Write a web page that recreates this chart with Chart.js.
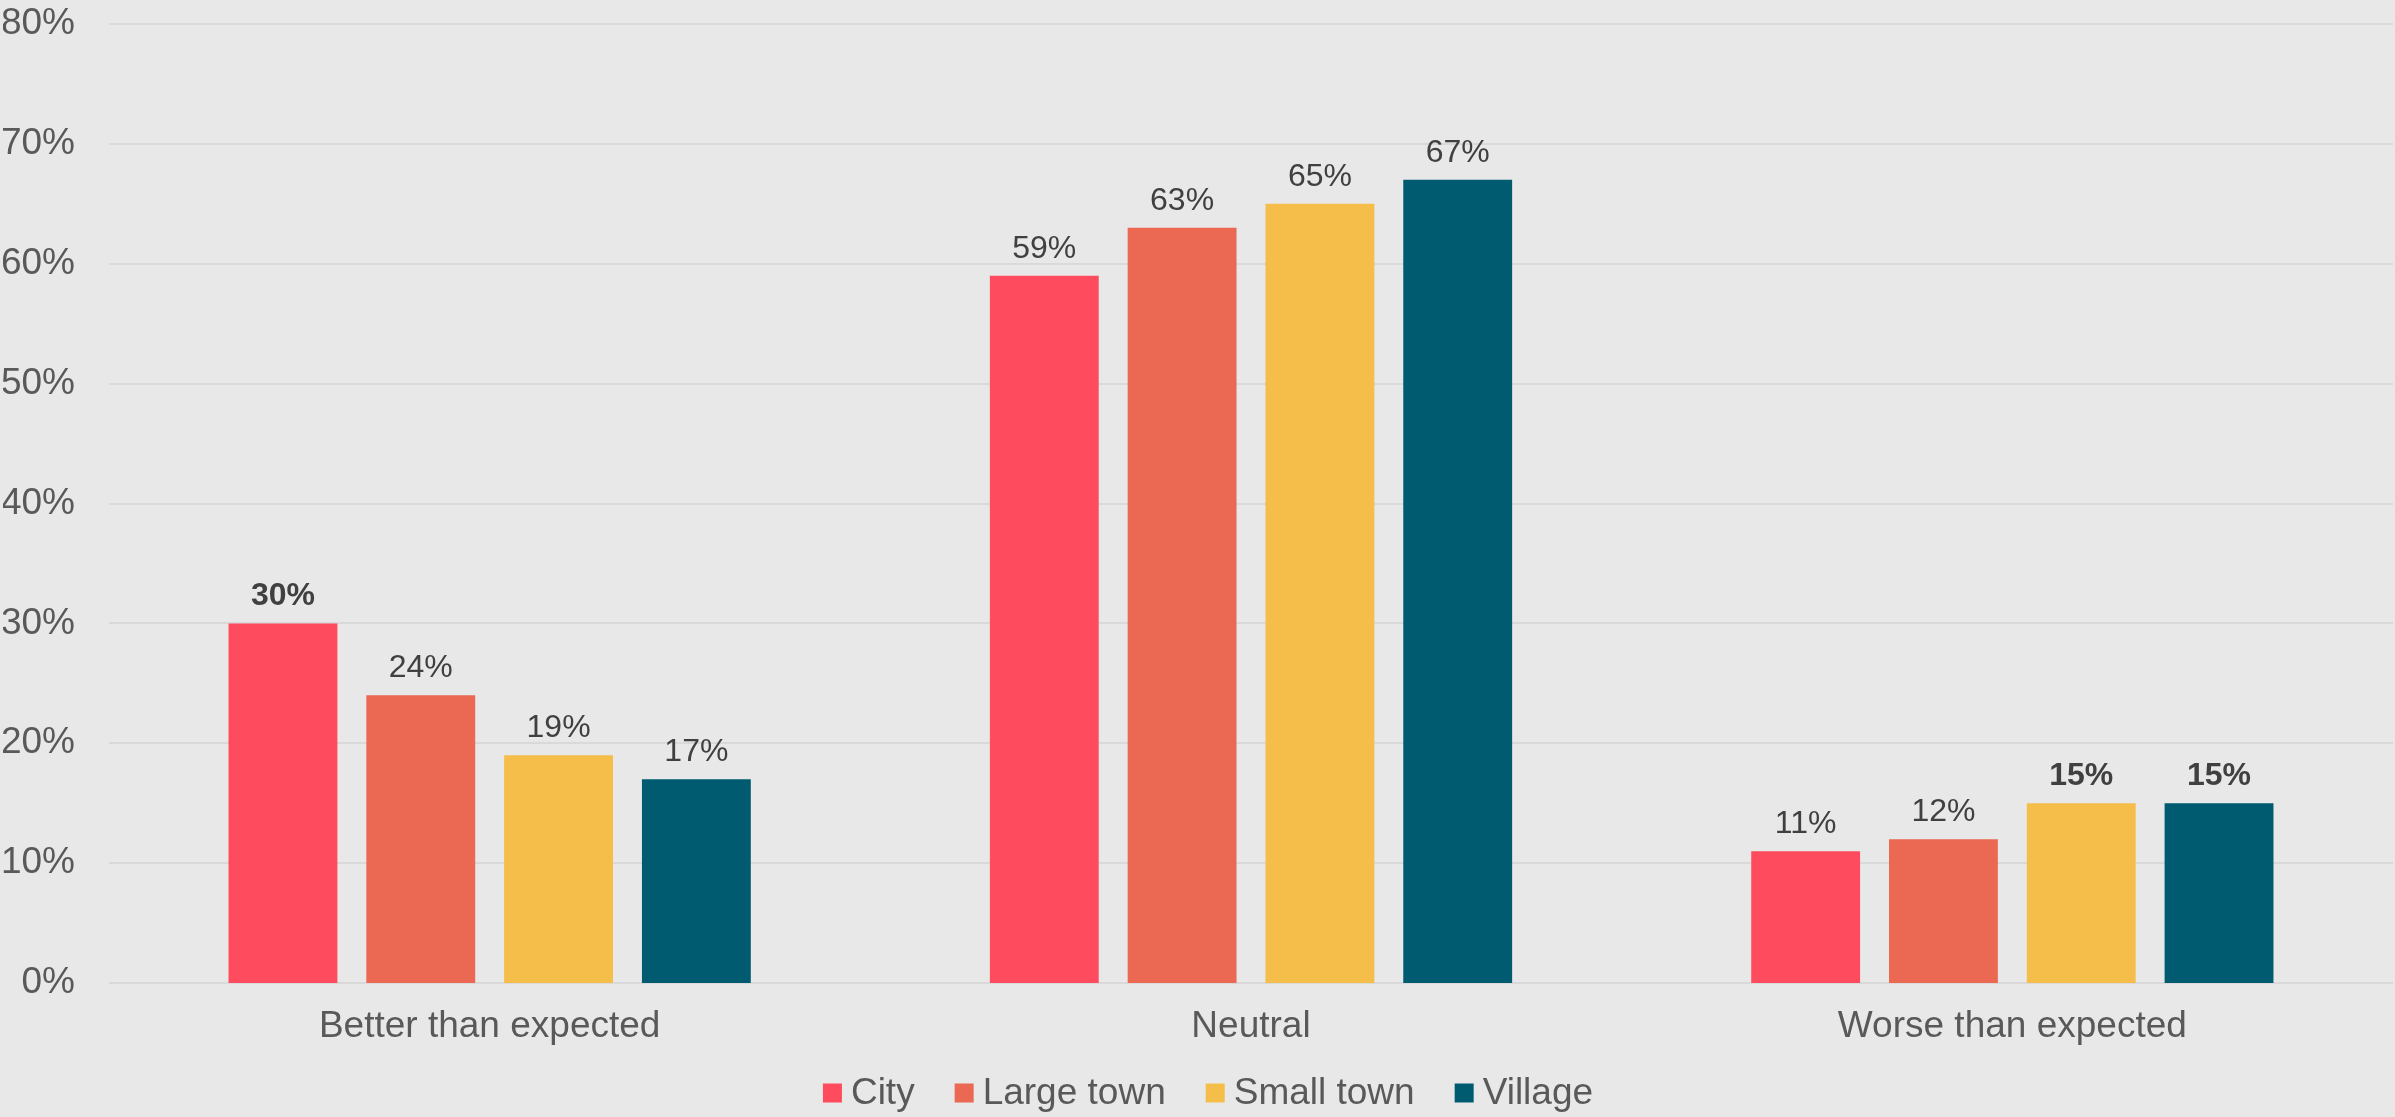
<!DOCTYPE html>
<html>
<head>
<meta charset="utf-8">
<script src="https://cdn.jsdelivr.net/npm/chart.js@4.4.0/dist/chart.umd.min.js"></script>
<style>
  html, body { margin: 0; padding: 0; background: #e8e8e8; }
  #wrap { width: 2395px; height: 1117px; position: relative; }
</style>
</head>
<body>
<div id="wrap"><canvas id="c" width="2395" height="1117"></canvas></div>
<script>
const categories = ['Better than expected', 'Neutral', 'Worse than expected'];
const seriesNames = ['City', 'Large town', 'Small town', 'Village'];
const cityValues = [30, 59, 11];
const largeTownValues = [24, 63, 12];
const smallTownValues = [19, 65, 15];
const villageValues = [17, 67, 15];
const cityBold = [true, false, false];
const largeTownBold = [false, false, false];
const smallTownBold = [false, false, true];
const villageBold = [false, false, true];
const yTicks = [0, 10, 20, 30, 40, 50, 60, 70, 80];
const colors = ['#FF4B5E', '#EB6853', '#F5BE4B', '#005A70'];

const FONT = '"Liberation Sans", Arial, sans-serif';

const allValues = [cityValues, largeTownValues, smallTownValues, villageValues];
const allBold = [cityBold, largeTownBold, smallTownBold, villageBold];

const datasets = seriesNames.map((name, i) => ({
  label: name,
  data: allValues[i],
  bold: allBold[i],
  backgroundColor: colors[i],
  borderWidth: 0,
  categoryPercentage: 0.724,
  barPercentage: 0.79
}));

const bgPlugin = {
  id: 'bg',
  beforeDraw(chart) {
    const ctx = chart.ctx;
    ctx.save();
    ctx.fillStyle = '#e8e8e8';
    ctx.fillRect(0, 0, chart.width, chart.height);
    ctx.restore();
  }
};

const gridPlugin = {
  id: 'hgrid',
  beforeDatasetsDraw(chart) {
    const ctx = chart.ctx;
    const xs = chart.scales.x, ys = chart.scales.y;
    ctx.save();
    ctx.strokeStyle = '#d9d9d9';
    ctx.lineWidth = 2;
    yTicks.forEach(v => {
      const y = Math.round(ys.getPixelForValue(v));
      ctx.beginPath();
      ctx.moveTo(xs.left, y);
      ctx.lineTo(xs.right, y);
      ctx.stroke();
    });
    ctx.restore();
  }
};

const labelPlugin = {
  id: 'valueLabels',
  afterDatasetsDraw(chart) {
    const ctx = chart.ctx;
    ctx.save();
    ctx.fillStyle = '#404040';
    ctx.textAlign = 'center';
    ctx.textBaseline = 'alphabetic';
    chart.data.datasets.forEach((ds, di) => {
      const meta = chart.getDatasetMeta(di);
      meta.data.forEach((bar, i) => {
        ctx.font = (ds.bold[i] ? 'bold ' : '') + '32px ' + FONT;
        ctx.fillText(ds.data[i] + '%', bar.x, bar.y - 18);
      });
    });
    ctx.restore();
  }
};

const legendPlugin = {
  id: 'customLegend',
  afterDraw(chart) {
    const ctx = chart.ctx;
    ctx.save();
    ctx.font = '37px ' + FONT;
    const box = 19, gapText = 9, gapItem = 40;
    const widths = chart.data.datasets.map(ds => box + gapText + ctx.measureText(ds.label).width);
    const total = widths.reduce((a, b) => a + b, 0) + gapItem * (widths.length - 1);
    let x = 1208 - total / 2;
    const cy = 1093;
    ctx.textBaseline = 'middle';
    ctx.textAlign = 'left';
    chart.data.datasets.forEach((ds, i) => {
      ctx.fillStyle = ds.backgroundColor;
      ctx.fillRect(x, cy - box / 2, box, box);
      ctx.fillStyle = '#595959';
      ctx.fillText(ds.label, x + box + gapText, cy + 1);
      x += widths[i] + gapItem;
    });
    ctx.restore();
  }
};

new Chart(document.getElementById('c'), {
  type: 'bar',
  data: { labels: categories, datasets },
  options: {
    responsive: false,
    animation: false,
    layout: { padding: { left: 3, right: 2, top: 24, bottom: 69 } },
    plugins: {
      legend: { display: false },
      tooltip: { enabled: false }
    },
    scales: {
      x: {
        grid: { display: false, drawTicks: false },
        border: { display: false },
        afterFit(axis) { axis.paddingLeft = 0; axis.paddingRight = 0; axis.height = 65; },
        ticks: {
          color: '#595959',
          font: { family: FONT, size: 37 },
          padding: 22,
          maxRotation: 0
        }
      },
      y: {
        min: 0,
        max: 80,
        afterBuildTicks(axis) { axis.ticks = yTicks.map(v => ({ value: v })); },
        afterFit(axis) { axis.width = 106; axis.paddingTop = 0; axis.paddingBottom = 0; },
        grid: { display: false, drawTicks: false },
        border: { display: false },
        ticks: {
          color: '#595959',
          font: { family: FONT, size: 37 },
          padding: 34,
          callback: v => v + '%'
        }
      }
    }
  },
  plugins: [bgPlugin, gridPlugin, labelPlugin, legendPlugin]
});
</script>
</body>
</html>
